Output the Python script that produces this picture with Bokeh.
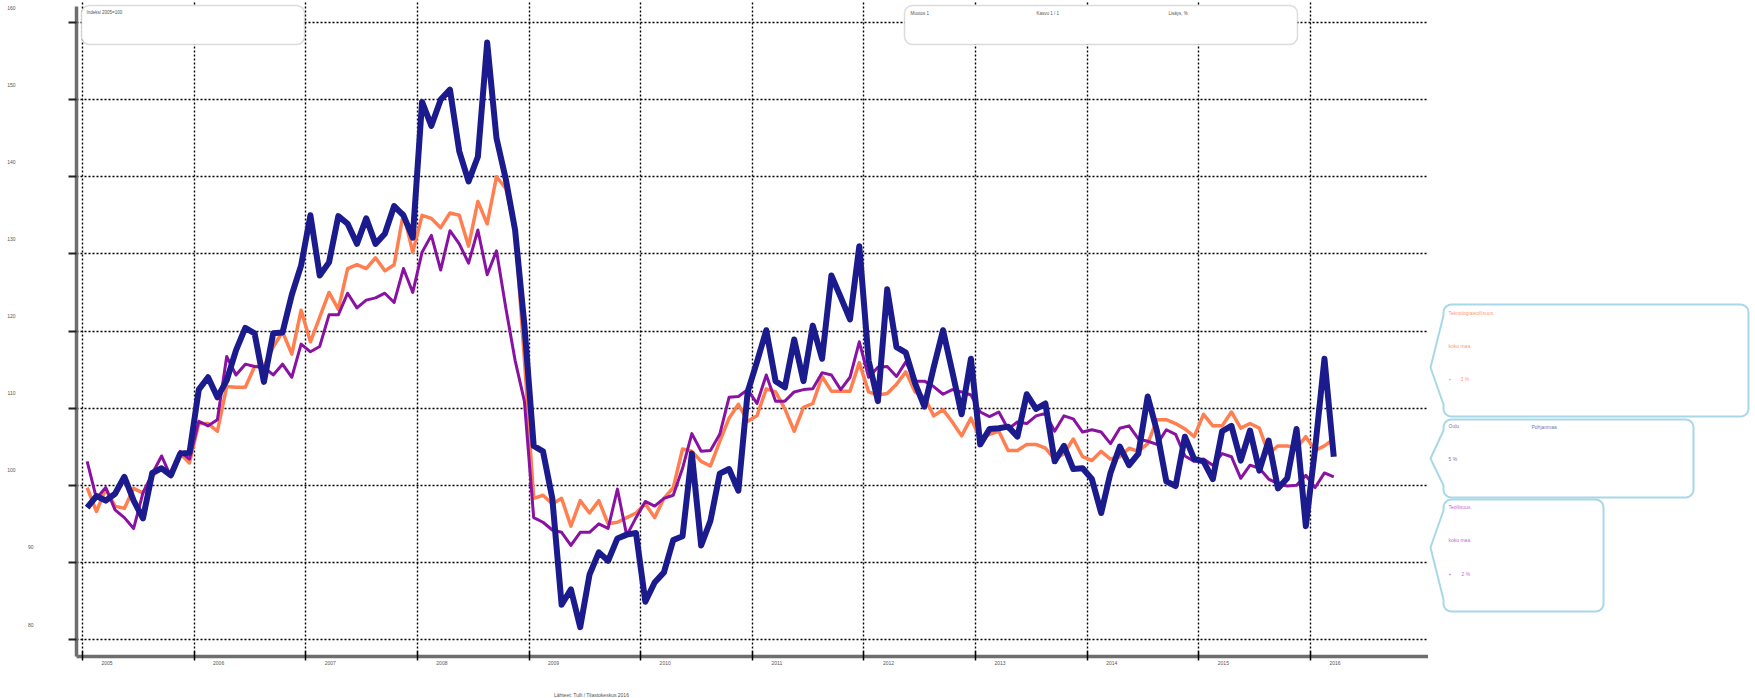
import numpy as np
import pandas as pd
from bokeh.plotting import figure
from bokeh.models import (Range1d, FixedTicker, Label, ColumnDataSource, BoxAnnotation,
                          LinearAxis)
from bokeh.layouts import row, column
from bokeh.embed import file_html
from bokeh.resources import INLINE

# ---------------- data ----------------
months = pd.period_range("2005-01", "2016-03", freq="M")

oulu = [
    97.1, 98.6, 98.0, 98.9, 101.1, 98.0, 95.7, 101.6, 102.2, 101.3, 104.1, 104.2,
    112.4, 114.0, 111.4, 113.6, 117.5, 120.4, 119.7, 113.4, 119.7, 119.8, 124.7, 128.5,
    135.0, 127.2, 128.9, 134.9, 133.9, 131.3, 134.6, 131.3, 132.6, 136.2, 135.0, 132.1,
    149.7, 146.6, 150.0, 151.3, 143.3, 139.4, 142.6, 157.4, 145.0, 139.7, 133.1, 120.8,
    105.1, 104.4, 98.3, 84.5, 86.5, 81.6, 88.4, 91.3, 90.2, 93.1, 93.6, 93.8,
    84.9, 87.4, 88.7, 92.9, 93.4, 104.1, 92.2, 95.4, 101.5, 102.1, 99.3, 112.1,
    116.0, 120.1, 113.5, 112.7, 118.9, 113.5, 120.7, 116.4, 127.2, 124.4, 121.5, 131.0,
    116.2, 110.9, 125.4, 117.9, 117.2, 113.2, 110.2, 115.3, 120.1, 114.7, 109.2, 116.4,
    105.3, 107.3, 107.4, 107.6, 106.3, 111.8, 109.9, 110.6, 103.1, 105.1, 102.1, 102.2,
    100.8, 96.4, 101.6, 105.0, 102.6, 104.1, 111.5, 107.0, 100.5, 99.9, 106.3, 103.4,
    103.1, 100.8, 107.0, 107.7, 103.2, 107.1, 101.9, 105.8, 99.6, 100.9, 107.3, 94.7,
    104.8, 116.4, 103.7,
]

teknologia = [
    99.7, 96.6, 99.5, 97.3, 97.0, 99.6, 99.0, 101.2, 102.2, 101.2, 104.1, 102.9,
    108.0, 108.0, 107.0, 112.8, 112.7, 112.7, 115.4, 115.4, 117.9, 119.9, 117.0, 122.7,
    118.6, 121.8, 125.0, 122.8, 128.1, 128.6, 128.1, 129.5, 127.8, 128.6, 135.3, 130.2,
    135.0, 134.6, 133.4, 135.3, 135.0, 131.0, 136.8, 133.9, 140.0, 138.5, 133.1, 116.4,
    98.3, 98.7, 97.6, 98.3, 94.7, 98.0, 96.4, 98.0, 95.0, 95.2, 95.8, 96.4,
    97.6, 95.8, 98.3, 99.7, 104.7, 104.4, 103.1, 102.5, 105.7, 108.7, 110.5, 108.3,
    109.0, 112.5, 112.1, 109.9, 107.0, 110.1, 110.6, 114.1, 112.2, 112.2, 112.2, 115.9,
    112.1, 111.7, 111.9, 113.1, 114.7, 112.1, 111.4, 109.0, 109.8, 108.2, 106.4, 108.7,
    106.0, 106.6, 107.0, 104.5, 104.5, 105.3, 105.3, 104.8, 103.4, 104.1, 106.0, 103.7,
    103.2, 104.4, 103.4, 103.7, 104.8, 104.4, 105.4, 108.5, 108.5, 108.0, 107.3, 106.3,
    109.2, 107.7, 107.7, 109.5, 107.4, 108.0, 107.4, 104.1, 105.1, 105.1, 104.8, 106.3,
    104.5, 105.1, 106.0,
]

teollisuus = [
    103.1, 98.3, 99.7, 96.8, 95.8, 94.4, 99.0, 101.5, 103.8, 101.1, 104.4, 103.4,
    108.3, 107.7, 108.5, 116.7, 114.3, 115.7, 115.4, 115.3, 114.3, 115.7, 114.0, 118.3,
    117.3, 118.0, 122.1, 122.1, 124.9, 123.0, 124.0, 124.3, 124.9, 123.7, 128.1, 125.0,
    130.2, 132.4, 127.9, 133.0, 131.3, 128.8, 133.1, 127.3, 130.4, 123.0, 116.2, 110.9,
    95.8, 95.2, 94.2, 93.9, 92.2, 93.9, 93.9, 95.0, 94.4, 99.5, 93.5, 95.8,
    97.9, 97.3, 98.3, 98.7, 102.2, 106.7, 104.4, 104.5, 106.6, 111.4, 111.5, 112.4,
    110.6, 114.3, 110.9, 110.9, 112.1, 112.4, 112.5, 114.6, 114.3, 112.4, 114.0, 118.6,
    114.0, 115.3, 115.4, 114.1, 116.0, 113.5, 113.5, 112.8, 111.8, 112.4, 112.1, 111.7,
    109.5, 108.9, 109.5, 107.3, 108.2, 108.0, 109.0, 109.3, 107.0, 109.0, 108.6, 106.9,
    107.2, 106.9, 105.4, 107.4, 107.7, 106.0, 105.7, 105.3, 107.2, 106.6, 103.8, 103.1,
    103.4, 102.6, 104.1, 103.7, 100.9, 102.6, 102.2, 100.8, 100.2, 99.9, 100.0, 101.3,
    99.7, 101.6, 101.1,
]

years = list(range(2005, 2017))
year_labels = [str(y) for y in years]
y_ticks = [80, 90, 100, 110, 120, 130, 140, 150, 160]
y_tick_labels = [str(v) for v in y_ticks]

box_title = "Indeksi 2005=100"
top_legend = ["Muutos 1", "Kasvu 1 / 1", "Lisäys, %"]
source_text = "Lähteet: Tulli / Tilastokeskus 2016"
callout_texts = [
    ["Teknologiateollisuus,", "koko maa", "+", "3 %"],
    ["Oulu", "Pohjanmaa", "5 %"],
    ["Teollisuus,", "koko maa", "+", "2 %"],
]

C_NAVY = "#1b1b8e"
C_ORANGE = "#ff7f50"
C_PURPLE = "#8a12a2"
FONT = "Liberation Sans"
TXT = "#555555"

# ---------------- geometry (page pixels) ----------------
TOTAL_W, TOTAL_H = 1755, 698
FL, FR, FT, FB = 76, 1428, 0, 656          # frame edges
BOTTOM = 14                                 # x-axis panel
MAIN_H = FB + BOTTOM
X0, X1 = 2004.9463, 2017.057
Y0, Y1 = 77.796, 162.853


def dx(px):
    return X0 + (px - FL) / (FR - FL) * (X1 - X0)


def dy(py):
    return Y1 - (py - FT) / (FB - FT) * (Y1 - Y0)


UNIT_PX = (FB - FT) / (Y1 - Y0)

xs = [m.year + (m.month - 0.5) / 12 for m in months]
src = ColumnDataSource(dict(x=xs, oulu=oulu, tek=teknologia, teo=teollisuus))

p = figure(width=FR, height=MAIN_H, x_range=Range1d(X0, X1), y_range=Range1d(Y0, Y1),
           toolbar_location=None, output_backend="svg",
           min_border_left=FL, min_border_right=0, min_border_top=FT, min_border_bottom=BOTTOM)
p.outline_line_color = None
p.background_fill_color = "white"

# primary axes: lines + tick marks only
for ax in (p.xaxis[0], p.yaxis[0]):
    ax.axis_line_color = "#6e6e6e"
    ax.axis_line_width = 3.5
    ax.major_label_text_color = None
    ax.major_label_text_font_size = "1px"
    ax.major_label_standoff = 0
    ax.minor_tick_line_color = None

p.xaxis[0].ticker = FixedTicker(ticks=years)
p.yaxis[0].ticker = FixedTicker(ticks=y_ticks)
p.yaxis[0].bounds = (Y0, dy(6))
p.xaxis[0].major_tick_in = 5
p.xaxis[0].major_tick_out = 4
p.xaxis[0].major_tick_line_color = "black"
p.xaxis[0].major_tick_line_width = 1.5
p.yaxis[0].major_tick_in = 0
p.yaxis[0].major_tick_out = 8
p.yaxis[0].major_tick_line_color = "#222222"
p.yaxis[0].major_tick_line_width = 2


def label_axis(ticks, labels, standoff):
    return LinearAxis(ticker=FixedTicker(ticks=ticks),
                      major_label_overrides=dict(zip(ticks, labels)),
                      axis_line_color=None, major_tick_line_color=None,
                      minor_tick_line_color=None, major_tick_in=0, major_tick_out=0,
                      major_label_standoff=standoff, major_label_text_font_size="5px",
                      major_label_text_color=TXT, major_label_text_font=FONT)


# year labels sit to the right of their ticks
x_shift = 24.5 / (FR - FL) * (X1 - X0)
x_lab_ticks = [y + x_shift for y in years]
p.add_layout(label_axis(x_lab_ticks, year_labels, 0), "below")

# y labels sit above their grid lines; two-digit ones further right, as in the original
y_shift = 15 / UNIT_PX
low = [(min(v + y_shift, Y1 - 0.3), t) for v, t in zip(y_ticks, y_tick_labels) if v < 100]
high = [(min(v + y_shift, Y1 - 0.3), t) for v, t in zip(y_ticks, y_tick_labels) if v >= 100]
p.add_layout(label_axis([a for a, _ in low], [b for _, b in low], 35), "left")
p.add_layout(label_axis([a for a, _ in high], [b for _, b in high], 9), "left")

p.xgrid.ticker = FixedTicker(ticks=years)
p.ygrid.ticker = FixedTicker(ticks=y_ticks)
for g in (p.xgrid[0], p.ygrid[0]):
    g.grid_line_color = "black"
    g.grid_line_dash = "2 2"
    g.grid_line_width = 1.4

p.line("x", "tek", source=src, color=C_ORANGE, line_width=3.5, line_join="round")
p.line("x", "teo", source=src, color=C_PURPLE, line_width=3, line_join="round")
p.line("x", "oulu", source=src, color=C_NAVY, line_width=6, line_join="round")

# top boxes
for (l, r) in [(81, 304), (904, 1297)]:
    p.add_layout(BoxAnnotation(left=dx(l), right=dx(r), top=dy(5), bottom=dy(44),
                               fill_color="white", fill_alpha=1.0, line_color="#8c8c8c",
                               line_width=1.5, border_radius=8, level="annotation"))
p.add_layout(Label(x=dx(86), y=dy(12), text=box_title, text_font_size="4.5px",
                   text_color=TXT, text_baseline="middle", text_font=FONT))
for px, t in zip([910, 1036, 1168], top_legend):
    p.add_layout(Label(x=dx(px), y=dy(13), text=t, text_font_size="4.5px",
                       text_color=TXT, text_baseline="middle", text_font=FONT))

# ---------------- side callouts (share the main figure's vertical scale) ----------------
SW = TOTAL_W - FR
p2 = figure(width=SW, height=MAIN_H, x_range=Range1d(0, SW), y_range=p.y_range,
            x_axis_type=None, y_axis_type=None,
            toolbar_location=None, output_backend="svg",
            min_border_left=0, min_border_right=0, min_border_top=FT,
            min_border_bottom=BOTTOM)
p2.grid.visible = False
p2.outline_line_color = None


def arc(cx, cy, r, a0, a1, n=8):
    t = np.linspace(np.radians(a0), np.radians(a1), n)
    return list(cx + r * np.cos(t)), list(cy + r * np.sin(t))


def callout(x0, x1, y0, y1, tx, ty, a=11, b=12, r=8):
    X, Y = [], []
    for cx, cy, a0, a1 in [(x0 + r, y0 + r, 180, 270), (x1 - r, y0 + r, 270, 360),
                           (x1 - r, y1 - r, 0, 90), (x0 + r, y1 - r, 90, 180)]:
        ax_, ay_ = arc(cx, cy, r, a0, a1)
        X += ax_
        Y += ay_
    X += [x0, tx, x0]
    Y += [y1 - b, ty, y0 + a]
    return X, [dy(v) for v in Y]


boxes = [(15, 320, 304, 416, 2, 367), (15, 265, 419, 497, 2, 458), (15, 175, 499, 611, 2, 547)]
for (x0, x1, y0, y1, tx, ty) in boxes:
    X, Y = callout(x0, x1, y0, y1, tx, ty)
    p2.patch(X, Y, fill_color="white", line_color="#a8d8e8", line_width=2)

cols = [C_ORANGE, "#5252b0", "#b34ac8"]
pos = [
    [(20, 312), (20, 345), (20, 378), (32, 378)],
    [(20, 425), (103, 426), (20, 458)],
    [(20, 506), (20, 539), (20, 573), (33, 573)],
]
for texts, ps, c in zip(callout_texts, pos, cols):
    for t, (fx, fy) in zip(texts, ps):
        p2.add_layout(Label(x=fx, y=dy(fy), text=t, text_font_size="5px", text_color=c,
                            text_alpha=0.85, text_baseline="middle", text_font=FONT))

# ---------------- bottom source line ----------------
BH = TOTAL_H - MAIN_H
pb = figure(width=TOTAL_W, height=BH, x_range=Range1d(0, TOTAL_W), y_range=Range1d(BH, 0),
            x_axis_type=None, y_axis_type=None,
            toolbar_location=None, output_backend="svg", min_border=0)
pb.grid.visible = False
pb.outline_line_color = None
pb.add_layout(Label(x=591, y=694 - MAIN_H, text=source_text, text_font_size="5px",
                    text_color=TXT, text_align="center", text_baseline="middle",
                    text_font=FONT))

layout = column(row(p, p2), pb)
open("out.html", "w").write(file_html(layout, INLINE))
